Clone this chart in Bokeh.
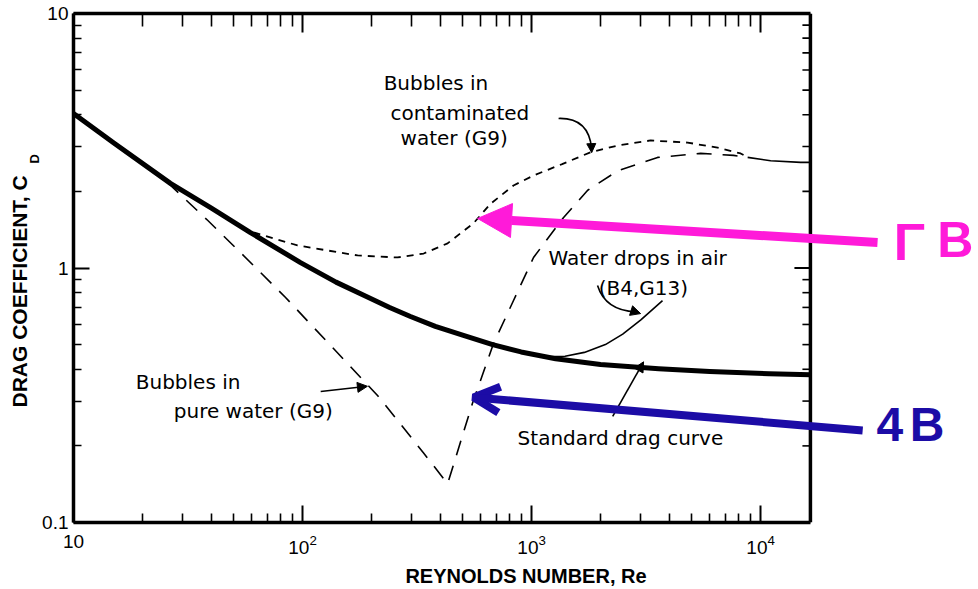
import math
from bokeh.plotting import figure
from bokeh.models import LogAxis, FixedTicker, Label, Arrow, NormalHead, OpenHead, Span, Title
from bokeh.embed import file_html
from bokeh.resources import INLINE

# ---------------- data ----------------
std_re = [10, 15, 26.5, 40, 59, 98, 140, 192, 240, 296, 380, 500, 676, 900, 1274, 2000, 3590, 6000, 10900, 16500]
std_cd = [4.05, 3.1, 2.15, 1.72, 1.38, 1.05, 0.88, 0.77, 0.70, 0.645, 0.59, 0.545, 0.50, 0.468, 0.44, 0.418, 0.402, 0.392, 0.384, 0.381]

pure_re = [25.7, 38.5, 53.6, 84.3, 100, 213, 337, 430, 552, 682, 834, 1020, 1380, 1758, 2378, 3550, 5470, 7620, 8780]
pure_cd = [2.17, 1.54, 1.15, 0.766, 0.65, 0.315, 0.188, 0.142, 0.294, 0.505, 0.745, 1.10, 1.58, 2.02, 2.41, 2.72, 2.82, 2.77, 2.72]

cont_re = [61.1, 95.1, 174, 260, 338, 430, 558, 663, 834, 1020, 1360, 1810, 2380, 3310, 4800, 6490, 8180, 8780]
cont_cd = [1.38, 1.226, 1.12, 1.10, 1.14, 1.25, 1.50, 1.79, 2.11, 2.31, 2.56, 2.85, 3.03, 3.17, 3.11, 2.97, 2.82, 2.72]

tail_re = [8780, 11060, 14960, 16500]
tail_cd = [2.72, 2.64, 2.60, 2.60]

drops_re = [1150, 1400, 1700, 2100, 2500, 3000, 3730]
drops_cd = [0.448, 0.45, 0.466, 0.50, 0.55, 0.625, 0.745]

X_MIN, X_MAX = 10, 16500      # extent of the drawn axes
Y_MIN, Y_MAX = 0.1, 10

x_ticks = [10, 100, 1000, 10000]
y_ticks = [0.1, 1, 10]
x_minor = [m * 10 ** e for e in range(1, 5) for m in range(2, 10) if m * 10 ** e <= X_MAX]
y_minor = [m * 10.0 ** e for e in (-1, 0) for m in range(2, 10)]
x_tick_labels = {10: "10"}
y_tick_labels = {0.1: "0.1", 1: "1", 10: "10"}

FONT = "Liberation Sans"
TFONT = "DejaVu Sans"

p = figure(width=978, height=589, x_axis_type="log", y_axis_type="log",
           x_range=(X_MIN, 89400), y_range=(Y_MIN, Y_MAX),
           output_backend="svg", toolbar_location=None,
           min_border_left=73, min_border_right=0, min_border_top=13, min_border_bottom=67)
p.grid.visible = False
p.outline_line_color = None
p.background_fill_color = "white"
p.border_fill_color = "white"

top = LogAxis()
p.add_layout(top, "above")

def style(ax, ticks, minor, maj_in, min_in, labels=None):
    ax.ticker = FixedTicker(ticks=ticks, minor_ticks=minor)
    ax.axis_line_width = 3.5
    ax.axis_line_color = "black"
    ax.major_tick_in = maj_in
    ax.major_tick_out = 0
    ax.minor_tick_in = min_in
    ax.minor_tick_out = 0
    ax.major_tick_line_width = 2
    ax.minor_tick_line_width = 1.6
    if labels is None:
        ax.major_label_text_font_size = "1px"
        ax.major_label_text_alpha = 0
        ax.major_label_standoff = 0
    else:
        ax.major_label_overrides = labels
        ax.major_label_text_font = FONT
        ax.major_label_text_font_size = "19px"
        ax.major_label_text_color = "black"

xa = p.below[0]
style(xa, x_ticks, x_minor, 17, 9, x_tick_labels)
xa.bounds = (X_MIN, X_MAX)
xa.major_label_standoff = 12
xa.axis_label = "REYNOLDS NUMBER, Re"
xa.axis_label_text_font = FONT
xa.axis_label_text_font_size = "20px"
xa.axis_label_text_font_style = "bold"
xa.axis_label_text_color = "black"
xa.axis_label_standoff = 8

ya = p.left[0]
style(ya, y_ticks, y_minor, 16, 8, y_tick_labels)
ya.major_label_standoff = 5

style(top, x_ticks, x_minor, 19, 13)
top.bounds = (X_MIN, X_MAX)

# y title with subscript: inner column holds the subscript, outer column the main text
t_sub = Title(text="D", align="left", offset=359, standoff=-4, text_font=FONT, text_color="black",
              text_font_size="13px", text_font_style="bold")
t_main = Title(text="DRAG COEFFICIENT, C", align="left", offset=115, standoff=-8, text_font=FONT,
               text_color="black", text_font_size="21px", text_font_style="bold")
p.add_layout(t_sub, "left")
p.add_layout(t_main, "left")

# right edge of the box with inward ticks
p.add_layout(Span(location=X_MAX, dimension="height", line_width=3.5, line_color="black"))
p.ray(x=[X_MAX] * len(y_ticks), y=y_ticks, length=16, angle=math.pi, length_units="screen",
      line_width=2, line_color="black")
p.ray(x=[X_MAX] * len(y_minor), y=y_minor, length=8, angle=math.pi, length_units="screen",
      line_width=1.6, line_color="black")

# ---------------- curves ----------------
p.line(std_re, std_cd, line_width=5, line_color="black", line_join="round")
p.line(pure_re, pure_cd, line_width=1.6, line_color="black", line_dash="15 11")
p.line(cont_re, cont_cd, line_width=1.8, line_color="black", line_dash="7 6")
p.line(tail_re, tail_cd, line_width=1.6, line_color="black")
p.line(drops_re, drops_cd, line_width=1.6, line_color="black")

# ---------------- annotation arrows ----------------
p.quadratic(x0=[1312], y0=[3.87], x1=[1828], y1=[2.95], cx=[1775], cy=[3.9], line_width=1.6, line_color="black")
p.add_layout(Arrow(x_start=1825, y_start=3.0, x_end=1830, y_end=2.84, line_width=1.6,
                   end=NormalHead(size=9, fill_color="black", line_color="black")))
p.quadratic(x0=[1941], y0=[0.853], x1=[2850], y1=[0.672], cx=[2100], cy=[0.68], line_width=1.6, line_color="black")
p.add_layout(Arrow(x_start=2750, y_start=0.678, x_end=2993, y_end=0.662, line_width=1.6,
                   end=NormalHead(size=10, fill_color="black", line_color="black")))
p.add_layout(Arrow(x_start=120, y_start=0.327, x_end=192, y_end=0.343, line_width=1.6,
                   end=NormalHead(size=10, fill_color="black", line_color="black")))
p.add_layout(Arrow(x_start=2260, y_start=0.261, x_end=3083, y_end=0.428, line_width=1.6,
                   end=NormalHead(size=10, fill_color="black", line_color="black")))

# ---------------- texts ----------------
def txt(x, y, s, size="20px", font=TFONT, **kw):
    p.add_layout(Label(x=x, y=y, text=s, text_font=font, text_font_size=size,
                       text_baseline=kw.pop("baseline", "middle"), text_align=kw.pop("align", "left"),
                       text_color=kw.pop("color", "black"), **kw))

txt(226, 5.31, "Bubbles in")
txt(242, 4.08, "contaminated")
txt(268, 3.23, "water (G9)")
txt(1186, 1.09, "Water drops in air")
txt(1963, 0.838, "(B4,G13)")
txt(869, 0.214, "Standard drag curve")
txt(18.7, 0.355, "Bubbles in")
txt(27.4, 0.275, "pure water (G9)")

# hand-drawn marks on the right
PINK = "#ff1ad9"
BLUE = "#1c0ca6"
p.add_layout(Arrow(x_start=32400, y_start=1.26, x_end=581, y_end=1.565, line_width=9, line_color=PINK,
                   end=NormalHead(size=34, fill_color=PINK, line_color=PINK)))
p.add_layout(Arrow(x_start=27900, y_start=0.230, x_end=558, y_end=0.310, line_width=8, line_color=BLUE,
                   end=OpenHead(size=26, line_color=BLUE, line_width=8)))
txt(38100, 1.27, "Γ", size="52px", font=FONT, color=PINK, text_font_style="bold")
txt(85000, 1.29, "B", size="50px", font=FONT, color=PINK, text_font_style="bold", align="right")
txt(32100, 0.243, "4", size="48px", font=FONT, color=BLUE, text_font_style="bold")
txt(44800, 0.243, "B", size="48px", font=FONT, color=BLUE, text_font_style="bold")

open("out.html", "w").write(file_html(p, INLINE))
